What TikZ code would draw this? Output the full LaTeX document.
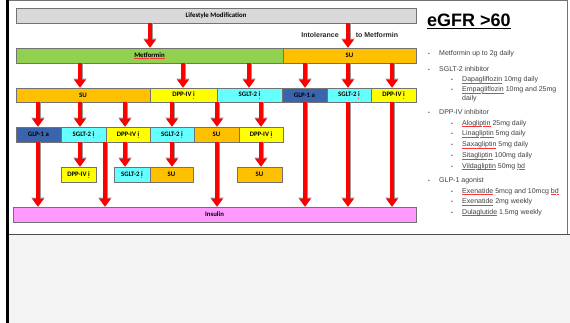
\documentclass[tikz,border=0pt]{standalone}
\usepackage{fontspec}
\setmainfont{Liberation Sans}
\newfontfamily\boxfont{Carlito}
\usetikzlibrary{arrows.meta}
\definecolor{lifegray}{HTML}{D9D9D9}
\definecolor{metgreen}{HTML}{92D050}
\definecolor{suorange}{HTML}{FFC000}
\definecolor{dppyellow}{HTML}{FFFF00}
\definecolor{sgltcyan}{HTML}{66FFFF}
\definecolor{glpblue}{HTML}{3B64AD}
\definecolor{insulinpink}{HTML}{FF99FF}
\definecolor{arrred}{HTML}{FF0000}
\definecolor{listgray}{HTML}{404040}
\definecolor{bottomgray}{HTML}{F4F4F4}
\newcommand\sq[1]{\setbox0\hbox{#1}\rlap{\raisebox{-1.4pt}{\hbox to \wd0{\color{red!80}\xleaders\hbox{\rule{0.6pt}{0.3pt}\kern0.4pt}\hfill}}}\box0\relax}
\newcommand\bx[7]{\node[boxst,fill=#6,minimum width={(#4-#2)*1pt},minimum height={(#5-#3)*1pt}] (#1) at ({(#2+#4)/2},{(#3+#5)/2}) {#7};}
\newcommand\arr[3]{\draw[bigarrow] (#2 |- #1.south) -- (#2 |- #3.north);}
\newcommand\itemA[2]{\node[bul] (b#1) at (429,#1) {•};\node[lst] (t#1) at (439,#1) {#2};}
\newcommand\itemB[2]{\node[bul] (b#1) at (452,#1) {•};\node[lst] (t#1) at (462,#1) {#2};}
\begin{document}
\begin{tikzpicture}[x=1pt,y=-1pt,
  boxst/.style={draw=black!55,line width=0.5pt,inner sep=0pt,text=black,
    font=\boxfont\bfseries\fontsize{6.8}{7}\selectfont},
  bigarrow/.style={draw=arrred,line width=4pt,-{Triangle[width=11pt,length=8pt]},
    preaction={draw=black!40,line width=5pt,-{Triangle[width=12.5pt,length=9pt]}}},
  lst/.style={anchor=base west,inner sep=0pt,text=listgray,font=\fontsize{7}{8}\selectfont},
  bul/.style={anchor=base,inner sep=0pt,text=listgray,font=\fontsize{5}{6}\selectfont},
  lbl/.style={inner sep=0pt,text=black!85,font=\bfseries\fontsize{7}{8}\selectfont}]
\useasboundingbox (0,0) rectangle (570,323);
% slide frame
\fill[white] (0,0) rectangle (570,323);
\fill[bottomgray] (9,234.5) rectangle (570,323);
\draw[black!55,line width=0.8pt] (9,0.4) -- (567,0.4) -- (567,234.5);
\draw[black!70,line width=1pt] (9,234.5) -- (570,234.5);
\fill[black] (6,0) rectangle (9,323);
% column coordinates
\foreach \c in {38,80,105,125,150,172,183,217,249,261,305,348,392}{\coordinate (k\c) at (\c,0);}
% boxes
\bx{life}{16}{8}{416}{23}{lifegray}{Lifestyle Modification}
\bx{met}{16}{48}{283}{63}{metgreen}{\sq{Metformin}}
\bx{su0}{283}{48}{416}{63}{suorange}{SU}
\bx{aSU}{16}{88}{150}{102}{suorange}{SU}
\bx{aDPP}{150}{88}{217}{102}{dppyellow}{DPP-IV \sq{i}}
\bx{aSG}{217}{88}{282}{102}{sgltcyan}{SGLT-2 \sq{i}}
\bx{aGLP}{282}{88}{327}{102}{glpblue}{GLP-1 a}
\bx{aSG2}{327}{88}{371}{102}{sgltcyan}{SGLT-2 \sq{i}}
\bx{aDPP2}{371}{88}{416}{102}{dppyellow}{DPP-IV \sq{i}}
\bx{bGLP}{16}{127}{61}{142}{glpblue}{GLP-1 a}
\bx{bSG}{61}{127}{106}{142}{sgltcyan}{SGLT-2 \sq{i}}
\bx{bDPP}{106}{127}{150}{142}{dppyellow}{DPP-IV \sq{i}}
\bx{bSG2}{150}{127}{194}{142}{sgltcyan}{SGLT-2 \sq{i}}
\bx{bSU}{194}{127}{239}{142}{suorange}{SU}
\bx{bDPP2}{239}{127}{283}{142}{dppyellow}{DPP-IV \sq{i}}
\bx{cDPP}{61}{167}{96}{182}{dppyellow}{DPP-IV \sq{i}}
\bx{cSG}{114}{167}{150}{182}{sgltcyan}{SGLT-2 \sq{i}}
\bx{cSU}{150}{167}{193}{182}{suorange}{SU}
\bx{cSU2}{237}{167}{282}{182}{suorange}{SU}
\bx{ins}{13}{207}{416}{222}{insulinpink}{Insulin}
% arrows
\arr{life}{k150}{met}
\arr{life}{k348}{su0}
\node[lbl] (intol) at (320,35.5) {Intolerance};
\node[lbl] (tomet) at (377,35.5) {to Metformin};
\arr{met}{k80}{aSU}
\arr{met}{k183}{aDPP}
\arr{met}{k249}{aSG}
\arr{su0}{k305}{aGLP}
\arr{su0}{k348}{aSG2}
\arr{su0}{k392}{aDPP2}
\arr{aSU}{k38}{bGLP}
\arr{aSU}{k80}{bSG}
\arr{aSU}{k125}{bDPP}
\arr{aDPP}{k172}{bSG2}
\arr{aDPP}{k217}{bSU}
\arr{aSG}{k261}{bDPP2}
\arr{bGLP}{k38}{ins}
\arr{bSG}{k80}{cDPP}
\arr{bSG}{k105}{ins}
\arr{bDPP}{k125}{cSG}
\arr{bSG2}{k172}{cSU}
\arr{bSU}{k217}{ins}
\arr{bDPP2}{k261}{cSU2}
\arr{aGLP}{k305}{ins}
\arr{aSG2}{k348}{ins}
\arr{aDPP2}{k392}{ins}
% right-hand text
\node[anchor=base west,inner sep=0pt,text=black,font=\bfseries\fontsize{18}{20}\selectfont] (egfr) at (427,26.5) {\sq{eGFR} >60};
\draw[black,line width=1.1pt] ([yshift=-2.2pt]egfr.base west) -- ([yshift=-2.2pt]egfr.base east);
\itemA{55.8}{Metformin up to 2g daily}
\itemA{71.5}{SGLT-2 inhibitor}
\itemB{81.8}{\sq{Dapagliflozin} 10mg daily}
\itemB{91.8}{\sq{Empagliflozin} 10mg and 25mg}
\node[lst] (tdaily) at (462,100.5) {daily};
\itemA{114.2}{DPP-IV inhibitor}
\itemB{125.2}{\sq{Alogliptin} 25mg daily}
\itemB{135.8}{\sq{Linagliptin} 5mg daily}
\itemB{146.5}{\sq{Saxagliptin} 5mg daily}
\itemB{157.5}{\sq{Sitagliptin} 100mg daily}
\itemB{168.2}{\sq{Vildagliptin} 50mg \sq{bd}}
\itemA{182.5}{GLP-1 agonist}
\itemB{193.2}{\sq{Exenatide} 5mcg and 10mcg \sq{bd}}
\itemB{203.5}{\sq{Exenatide} 2mg weekly}
\itemB{214.2}{\sq{Dulaglutide} 1.5mg weekly}
\end{tikzpicture}
\end{document}
